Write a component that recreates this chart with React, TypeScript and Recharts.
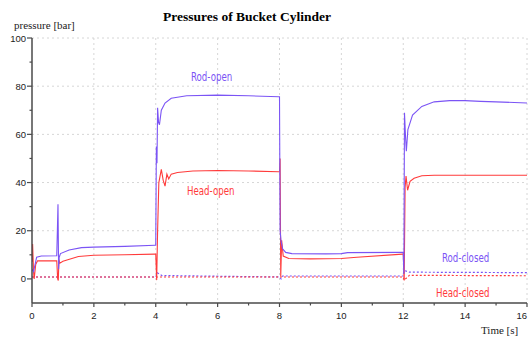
import React from 'react';
import { LineChart, Line, XAxis, YAxis, CartesianGrid } from 'recharts';

const COLORS = {
  rod: '#7b54f5',
  head: '#ff3b3b',
  axis: '#4a4a4a',
  grid: '#d6d6d6',
  text: '#222222',
};

// Rod-open (purple, solid)
const rodOpenT = [0, 0.05, 0.15, 0.3, 0.8, 0.82, 0.84, 0.86, 0.88, 0.92, 1.2, 1.6, 2, 3, 3.98, 4.0, 4.02, 4.04, 4.06, 4.09, 4.12, 4.18, 4.3, 4.5, 5.0, 6.0, 7.0, 7.98, 8.0, 8.02, 8.05, 8.1, 8.2, 8.4, 9.5, 10.0, 10.2, 11.98, 12.0, 12.02, 12.04, 12.07, 12.1, 12.15, 12.3, 12.6, 13.0, 13.5, 14.0, 14.5, 15.0, 16.0];
const rodOpenP = [4, 3, 9, 9.5, 9.6, 20, 31, 4, 9, 10.5, 12, 13, 13.2, 13.5, 14, 14, 55, 48, 71, 65, 64, 70, 73, 75, 76, 76.3, 76, 75.6, 75.6, 20, 15.8, 12.5, 11, 10.5, 10.4, 10.5, 10.9, 11, 11, 2, 69, 60, 53, 62, 68, 71.6, 73.5, 74, 74, 73.7, 73.5, 73];

// Head-open (red, solid)
const headOpenT = [0, 0.02, 0.05, 0.07, 0.12, 0.18, 0.5, 0.8, 0.83, 0.85, 0.87, 0.9, 1.0, 1.5, 2, 3, 3.98, 4.0, 4.03, 4.06, 4.1, 4.18, 4.24, 4.3, 4.36, 4.42, 4.5, 4.7, 5.2, 6, 7, 7.98, 8.0, 8.02, 8.04, 8.07, 8.12, 8.3, 9, 10, 10.5, 11.98, 12.0, 12.03, 12.06, 12.09, 12.14, 12.22, 12.35, 12.6, 13, 14, 15, 16];
const headOpenP = [7, 14.5, 3, 0, 6, 7.5, 7.5, 7.5, 0, -0.7, 8, 6.5, 7.3, 9.3, 9.8, 10, 10.3, 10.3, -0.5, 20, 40, 45.5, 41, 38.5, 43.5, 41.5, 43.5, 44.2, 44.8, 45, 44.8, 44.5, 44.5, 50, 1, 16, 9.5, 8.5, 8.3, 8.5, 9, 10.3, 10.3, -0.7, 38, 42.7, 36.8, 40.5, 41.8, 42.8, 43, 43, 43, 43];

// Rod-closed (purple, dotted)
const rodClosedT = [0, 4.0, 4.05, 4.2, 8.0, 8.05, 8.1, 12.0, 12.03, 12.2, 16];
const rodClosedP = [0.8, 0.8, 2.5, 1.4, 0.8, 0, 1.2, 1.2, 3.5, 2.8, 2.6];

// Head-closed (red, dotted)
const headClosedT = [0, 12.0, 12.03, 12.2, 16];
const headClosedP = [0.8, 0.8, -0.5, 1.5, 1.3];

const xTicks = [0, 1, 2, 3, 4, 5, 6, 7, 8, 9, 10, 11, 12, 13, 14, 15, 16];
const yTicks = [0, 10, 20, 30, 40, 50, 60, 70, 80, 90, 100];
const xGrid = [2, 4, 6, 8, 10, 12, 14, 16];
const yGrid = [20, 40, 60, 80, 100];

const zip = (t: number[], p: number[]) => t.map((v, i) => ({ t: v, p: p[i] }));

const rodOpen = zip(rodOpenT, rodOpenP);
const headOpen = zip(headOpenT, headOpenP);
const rodClosed = zip(rodClosedT, rodClosedP);
const headClosed = zip(headClosedT, headClosedP);

const tickFont = { fontFamily: 'Liberation Sans, Arial, sans-serif', fontSize: 9.5, fill: COLORS.text };

const YTick = (props: any) => {
  const { x, y, payload } = props;
  const major = payload.value % 20 === 0;
  return (
    <g>
      <line x1={x - (major ? 5 : 2.5)} x2={x} y1={y} y2={y} stroke={COLORS.axis} strokeWidth={1.2} />
      {major && (
        <text x={x - 6} y={y} dy={3.5} textAnchor="end" {...tickFont}>
          {payload.value}
        </text>
      )}
    </g>
  );
};

const XTick = (props: any) => {
  const { x, y, payload } = props;
  const major = payload.value % 2 === 0;
  // last label would fall off the right edge, so anchor it at its end
  const last = payload.value === 16;
  return (
    <g>
      <line x1={x} x2={x} y1={y} y2={y + (major ? 4 : 2.5)} stroke={COLORS.axis} strokeWidth={1.2} />
      {major && (
        <text x={last ? x : x} y={y + 16} textAnchor={last ? 'end' : 'middle'} {...tickFont}>
          {payload.value}
        </text>
      )}
    </g>
  );
};

const labelStyle = (color: string, left: number, top: number): React.CSSProperties => ({
  position: 'absolute',
  left,
  top,
  color,
  fontFamily: "'DejaVu Sans Condensed', 'DejaVu Sans', sans-serif",
  fontSize: 12,
  lineHeight: '14px',
  whiteSpace: 'nowrap',
  transform: 'scaleX(0.8)',
  transformOrigin: 'left center',
});

export default function App() {
  return (
    <div style={{ position: 'absolute', left: 0, top: 0, width: 528, height: 340, background: '#fff', overflow: 'hidden' }}>
      <LineChart width={528} height={340} margin={{ top: 38, right: 1, left: 0, bottom: 7 }}>
        <CartesianGrid
          stroke={COLORS.grid}
          strokeDasharray="2 3"
          horizontalValues={yGrid}
          verticalValues={xGrid}
        />
        <XAxis
          type="number"
          dataKey="t"
          domain={[0, 16]}
          ticks={xTicks}
          interval={0}
          allowDataOverflow
          height={30}
          tickSize={0}
          tickMargin={0}
          tickLine={false}
          tick={<XTick />}
          axisLine={{ stroke: COLORS.axis, strokeWidth: 1.5 }}
        />
        <YAxis
          type="number"
          dataKey="p"
          domain={[-10, 100]}
          ticks={yTicks}
          interval={0}
          allowDataOverflow
          width={32}
          tickSize={0}
          tickMargin={0}
          tickLine={false}
          tick={<YTick />}
          axisLine={{ stroke: COLORS.axis, strokeWidth: 1.5 }}
        />
        <Line data={rodClosed} dataKey="p" type="linear" stroke={COLORS.rod} strokeWidth={1.2} strokeDasharray="2 2" dot={false} isAnimationActive={false} />
        <Line data={headClosed} dataKey="p" type="linear" stroke={COLORS.head} strokeWidth={1.2} strokeDasharray="2 2" dot={false} isAnimationActive={false} />
        <Line data={headOpen} dataKey="p" type="linear" stroke={COLORS.head} strokeWidth={1.1} dot={false} isAnimationActive={false} />
        <Line data={rodOpen} dataKey="p" type="linear" stroke={COLORS.rod} strokeWidth={1.1} dot={false} isAnimationActive={false} />
      </LineChart>

      <div style={{ position: 'absolute', left: 0, width: 494, top: 9, textAlign: 'center', fontFamily: 'Liberation Serif, serif', fontWeight: 'bold', fontSize: 13.5, color: '#000' }}>
        Pressures of Bucket Cylinder
      </div>
      <div style={{ position: 'absolute', left: 14, top: 19, fontFamily: 'Liberation Serif, serif', fontSize: 11, color: '#222' }}>
        pressure [bar]
      </div>
      <div style={{ position: 'absolute', left: 481, top: 324, fontFamily: 'Liberation Serif, serif', fontSize: 11, color: '#222' }}>
        Time [s]
      </div>

      <div style={labelStyle(COLORS.rod, 191, 70)}>Rod-open</div>
      <div style={labelStyle(COLORS.head, 187, 184)}>Head-open</div>
      <div style={labelStyle(COLORS.rod, 442, 251)}>Rod-closed</div>
      <div style={labelStyle(COLORS.head, 436, 286)}>Head-closed</div>
    </div>
  );
}
